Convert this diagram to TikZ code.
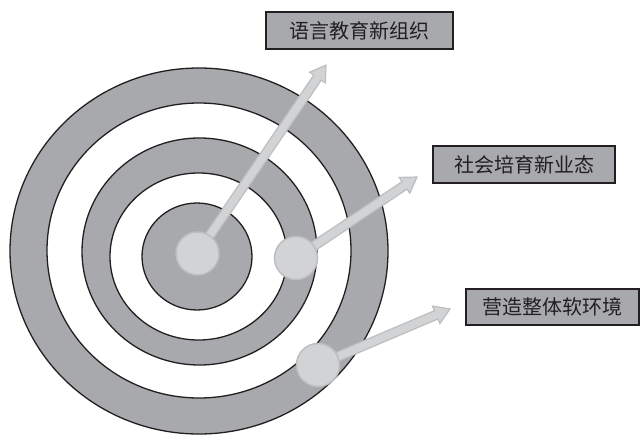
\documentclass[tikz,border=0pt]{standalone}
\usepackage{fontspec}
\newfontfamily\cjk{Noto Sans CJK SC}
\usetikzlibrary{calc}
\definecolor{ringgray}{HTML}{A7A9AC}
\definecolor{ballfill}{HTML}{D1D3D4}
\definecolor{balledge}{HTML}{BCBEC0}
\definecolor{ink}{HTML}{231F20}
\begin{document}
\begin{tikzpicture}[x=1pt,y=-1pt,
  ring/.style={draw=ink, line width=1.3pt},
  ball/.style={circle, fill=ballfill, draw=balledge, line width=1.5pt, minimum size=43pt, inner sep=0pt},
  gauge/.style={fill=ballfill, draw=balledge, line width=1.2pt, line join=miter},
  tag/.style={draw=ink, fill=ringgray, line width=2pt, text=ink, font=\cjk\fontsize{20}{24}\selectfont, minimum height=37pt, inner sep=0pt, anchor=center}]
\useasboundingbox (0,0) rectangle (644,434);
\fill[white] (0,0) rectangle (644,434);
% target rings
\draw[ring, fill=ringgray] (199,251) ellipse [x radius=189, y radius=183];
\draw[ring, fill=white] (199,250.5) ellipse [x radius=152, y radius=147.5];
\draw[ring, fill=ringgray] (199.5,251.5) ellipse [x radius=117.5, y radius=113.5];
\draw[ring, fill=white] (198.5,256.5) ellipse [x radius=88.5, y radius=83.5];
\draw[ring, fill=ringgray] (197,256.5) ellipse [x radius=55, y radius=53.5];
% ball positions
\coordinate (c1) at (197.5,253.5);
\coordinate (c2) at (296,258);
\coordinate (c3) at (318,365);
% arrows (shaft + head) from each ball
\draw[gauge, shift={(c1)}, rotate=55.7] (0pt,-4.5pt) -- (213pt,-4.5pt) -- (213pt,-9.5pt) -- (228pt,0pt) -- (213pt,9.5pt) -- (213pt,4.5pt) -- (0pt,4.5pt) -- cycle;
\draw[gauge, shift={(c2)}, rotate=33.8] (0pt,-4.5pt) -- (130.6pt,-4.5pt) -- (130.6pt,-9.5pt) -- (145.6pt,0pt) -- (130.6pt,9.5pt) -- (130.6pt,4.5pt) -- (0pt,4.5pt) -- cycle;
\draw[gauge, shift={(c3)}, rotate=23.0] (0pt,-4.5pt) -- (128.4pt,-4.5pt) -- (128.4pt,-9.5pt) -- (143.4pt,0pt) -- (128.4pt,9.5pt) -- (128.4pt,4.5pt) -- (0pt,4.5pt) -- cycle;
% balls
\node[ball] (b1) at (c1) {};
\node[ball] (b2) at (c2) {};
\node[ball] (b3) at (c3) {};
% labels
\node[tag, minimum width=187pt] (l1) at (359.5,30.5) {语言教育新组织};
\node[tag, minimum width=182pt] (l2) at (524,164.5) {社会培育新业态};
\node[tag, minimum width=173pt, minimum height=36pt] (l3) at (552,307) {营造整体软环境};
\end{tikzpicture}
\end{document}
